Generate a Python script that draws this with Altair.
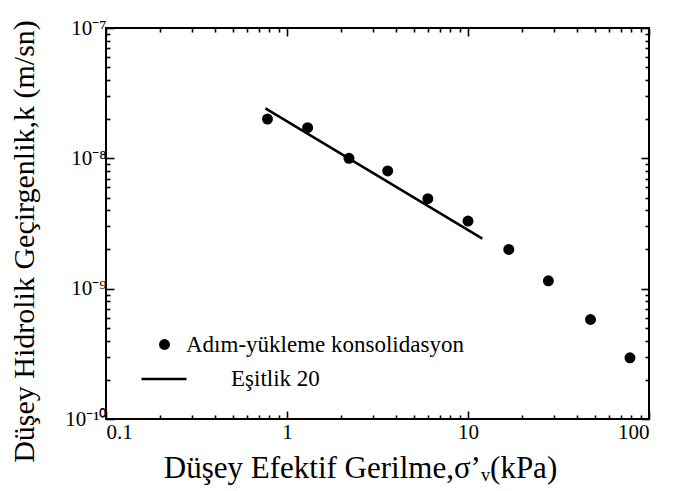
import altair as alt
import pandas as pd
import math

# ---- data ----
sigma_v = [0.78, 1.3, 2.2, 3.6, 6.0, 10.0, 16.8, 27.8, 47.5, 78.5]
k_meas = [2.0e-8, 1.72e-8, 1.0e-8, 8.0e-9, 4.9e-9, 3.3e-9, 2.0e-9, 1.15e-9, 5.8e-10, 2.95e-10]
line_sigma = [0.76, 12.0]
line_k = [2.42e-8, 2.42e-9]

series_points = "Adım-yükleme konsolidasyon"
series_line = "Eşitlik 20"

x_major = [0.1, 1, 10, 100]
x_major_labels = ["0.1", "1", "10", "100"]
x_minor = [0.2, 0.3, 0.4, 0.5, 0.6, 0.7, 0.8, 0.9,
           2, 3, 4, 5, 6, 7, 8, 9,
           20, 30, 40, 50, 60, 70, 80, 90]
y_major = [1e-10, 1e-9, 1e-8, 1e-7]
y_major_labels = ["10⁻¹⁰", "10⁻⁹", "10⁻⁸", "10⁻⁷"]
y_minor = [2e-10, 3e-10, 4e-10, 5e-10, 6e-10, 7e-10, 8e-10, 9e-10,
           2e-9, 3e-9, 4e-9, 5e-9, 6e-9, 7e-9, 8e-9, 9e-9,
           2e-8, 3e-8, 4e-8, 5e-8, 6e-8, 7e-8, 8e-8, 9e-8]

x_title = "Düşey Efektif Gerilme,σ’ᵥ(kPa)"
y_title = "Düşey Hidrolik Geçirgenlik,k (m/sn)"

FONT = "Liberation Serif"

df_pts = pd.DataFrame({"sigma": sigma_v, "k": k_meas, "series": series_points})
df_line = pd.DataFrame({"sigma": line_sigma, "k": line_k, "series": series_line})


def label_expr(values, labels):
    parts = []
    for i in range(len(values) - 1):
        mid = math.sqrt(values[i] * values[i + 1])
        parts.append(f"datum.value < {mid!r} ? '{labels[i]}' : ")
    return "".join(parts) + f"'{labels[-1]}'"


xs = alt.Scale(type="log", domain=[0.1, 100], nice=False)
ys = alt.Scale(type="log", domain=[1e-10, 1e-7], nice=False)


def ax(values, size, orient, **kw):
    return alt.Axis(values=values, orient=orient, tickSize={"expr": str(-size)},
                    domain=False, grid=False, ticks=True, tickColor="black",
                    tickWidth=1.6, **kw)


common_lab = dict(labelFont=FONT, labelFontSize=21, labelColor="black")

line = alt.Chart(df_line).mark_line(color="black", strokeWidth=2.5).encode(
    x=alt.X("sigma:Q", scale=xs,
            axis=ax(x_major, 8, "bottom", labels=True,
                    labelExpr=label_expr(x_major, x_major_labels),
                    labelPadding=10, title=x_title, titleFont=FONT,
                    titleFontSize=31, titleFontWeight="normal",
                    titleColor="black", titleX=254, titleY=49,
                    titleAlign="center", titleBaseline="middle", **common_lab)),
    y=alt.Y("k:Q", scale=ys,
            axis=ax(y_major, 8, "left", labels=True,
                    labelExpr=label_expr(y_major, y_major_labels),
                    labelPadding=8, title=y_title, titleFont=FONT,
                    titleFontSize=30, titleFontWeight="normal",
                    titleColor="black", titleX=-82, titleY=213,
                    titleAngle=270, titleAlign="center",
                    titleBaseline="middle", **common_lab)),
    color=alt.Color("series:N",
                    scale=alt.Scale(domain=[series_line], range=["black"]),
                    legend=alt.Legend(orient="none", legendX=34, legendY=327,
                                      title=None, symbolType="stroke",
                                      symbolSize=2025, symbolStrokeWidth=2.5,
                                      symbolStrokeColor="black",
                                      labelOffset=43, labelFont=FONT,
                                      labelFontSize=23, labelColor="black",
                                      labelLimit=500)),
)

points = alt.Chart(df_pts).mark_point(filled=True, color="black", size=120,
                                      opacity=1).encode(
    x=alt.X("sigma:Q", scale=xs, axis=ax(x_minor, 4, "bottom", labels=False),
            title=None),
    y=alt.Y("k:Q", scale=ys, axis=ax(y_minor, 4, "left", labels=False),
            title=None),
    shape=alt.Shape("series:N",
                    scale=alt.Scale(domain=[series_points], range=["circle"]),
                    legend=alt.Legend(orient="none", legendX=47, legendY=305,
                                      title=None, symbolSize=120,
                                      symbolFillColor="black",
                                      symbolStrokeColor="black",
                                      labelOffset=10, labelFont=FONT,
                                      labelFontSize=23, labelColor="black",
                                      labelLimit=500)),
)

mirror_major = alt.Chart(df_pts).mark_point(opacity=0).encode(
    x=alt.X("sigma:Q", scale=xs, axis=ax(x_major, 8, "top", labels=False),
            title=None),
    y=alt.Y("k:Q", scale=ys, axis=ax(y_major, 8, "right", labels=False),
            title=None),
)

mirror_minor = alt.Chart(df_pts).mark_point(opacity=0).encode(
    x=alt.X("sigma:Q", scale=xs, axis=ax(x_minor, 4, "top", labels=False),
            title=None),
    y=alt.Y("k:Q", scale=ys, axis=ax(y_minor, 4, "right", labels=False),
            title=None),
)

chart = alt.layer(line, points, mirror_major, mirror_minor).resolve_axis(
    x="independent", y="independent"
).properties(
    width=543, height=391,
    autosize=alt.AutoSizeParams(type="none"),
    padding={"left": 98, "top": 20, "right": 16, "bottom": 72},
    background="white",
).configure(
    font=FONT
).configure_axis(
    labelFont=FONT, titleFont=FONT
).configure_legend(
    labelFont=FONT
).configure_view(stroke="black", strokeWidth=2)

chart.save("out.html", embed_options={"renderer": "svg", "actions": False})
